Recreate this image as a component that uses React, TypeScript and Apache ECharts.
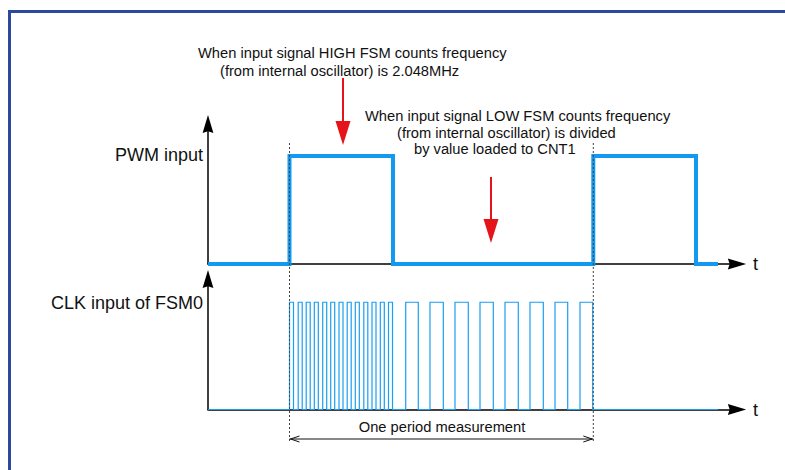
import React, { useEffect, useRef } from "react";
import * as echarts from "echarts";

// Time values (arbitrary units along the t axis)
const timeMax = 529;
const pwmEdgeTimes = [0, 81.5, 185, 385.3, 488, 510];
const pwmLevels = [0, 1, 0, 1, 0, 0];
const clkRiseTimes = [
  81.5, 90.2, 98.2, 106.3, 114.7, 122.7, 131, 139.2, 147.3, 155.8, 164, 172.3, 180.5,
  197.7, 222, 247, 272, 297, 322, 347, 372,
];
const clkFallTimes = [
  85.5, 94.2, 102.2, 110.3, 118.7, 126.7, 135, 143.2, 151.3, 159.8, 168, 176.3, 184.5,
  210.3, 235.3, 260.3, 285.3, 310.3, 335.3, 359.7, 384.7,
];
const clkEndTime = 510;
const periodStart = 81.5;
const periodEnd = 385.3;
const highArrowTime = 135;
const lowArrowTime = 283;

const signalLabels = ["PWM input", "CLK input of FSM0"];
const axisName = "t";
const highNote = ["When input signal HIGH FSM counts frequency", "(from internal oscillator) is 2.048MHz"];
const lowNote = [
  "When input signal LOW FSM counts frequency",
  "(from internal oscillator) is divided",
  "by value loaded to CNT1",
];
const measureLabel = "One period measurement";

const FONT = "'Liberation Sans', Arial, Helvetica, sans-serif";
const BLUE = "#1399f0";
const RED = "#e5141b";
const FRAME = "#2c4a9c";

export default function App() {
  const ref = useRef<HTMLDivElement>(null);

  useEffect(() => {
    const chart = echarts.init(ref.current as HTMLDivElement, null, { renderer: "svg" });

    const pwmData: number[][] = [[pwmEdgeTimes[0], pwmLevels[0]]];
    for (let i = 1; i < pwmEdgeTimes.length; i++) {
      pwmData.push([pwmEdgeTimes[i], pwmLevels[i - 1]]);
      pwmData.push([pwmEdgeTimes[i], pwmLevels[i]]);
    }
    const clkData: number[][] = [[0, 0]];
    clkRiseTimes.forEach((r, i) => {
      const f = clkFallTimes[i];
      clkData.push([r, 0], [r, 1], [f, 1], [f, 0]);
    });
    clkData.push([clkEndTime, 0]);

    const arrowPath = "path://M6,0L12,20L6,18L0,20Z";
    const axisLine = (size: number[]) => ({
      show: true,
      onZero: false,
      symbol: ["none", arrowPath],
      symbolSize: size,
      lineStyle: { color: "#000", width: 1.5 },
    });

    const xBase = (gridIndex: number, named: boolean) => ({
      type: "value",
      gridIndex,
      min: 0,
      max: timeMax,
      axisLine: named ? axisLine([11, 20]) : { show: false },
      axisTick: { show: false },
      axisLabel: { show: false },
      splitLine: { show: false },
      name: named ? axisName : "",
      nameLocation: "end",
      nameGap: 16,
      nameTextStyle: { fontSize: 18, fontFamily: FONT, color: "#111", verticalAlign: "middle" },
    });

    const yBase = (gridIndex: number, max: number, show: boolean, inverse = false) => ({
      type: "value",
      gridIndex,
      min: 0,
      max,
      inverse,
      axisLine: show ? axisLine([11, 18]) : { show: false },
      axisTick: { show: false },
      axisLabel: { show: false },
      splitLine: { show: false },
    });

    const option: any = {
      animation: false,
      backgroundColor: "#ffffff",
      grid: [
        { left: 208, right: 48, top: 124, bottom: 206 },
        { left: 208, right: 48, top: 279, bottom: 60.5 },
        { left: 208, right: 48, top: 0, bottom: 0 },
      ],
      xAxis: [xBase(0, true), xBase(1, true), xBase(2, false)],
      yAxis: [yBase(0, 1.296, true), yBase(1, 1.217, true), yBase(2, 470, false, true)],
      series: [
        {
          name: signalLabels[0],
          type: "line",
          xAxisIndex: 0,
          yAxisIndex: 0,
          data: pwmData,
          showSymbol: false,
          symbol: "none",
          clip: false,
          z: 3,
          lineStyle: { color: BLUE, width: 4, join: "miter", cap: "butt" },
        },
        {
          name: signalLabels[1],
          type: "line",
          xAxisIndex: 1,
          yAxisIndex: 1,
          data: clkData,
          showSymbol: false,
          symbol: "none",
          clip: false,
          z: 3,
          lineStyle: { color: "#1a9ef2", width: 1.2, join: "miter" },
        },
        {
          type: "custom",
          xAxisIndex: 2,
          yAxisIndex: 2,
          z: 5,
          silent: true,
          data: [[periodStart, periodEnd]],
          renderItem: (params: any, api: any) => {
            const px = (t: number, y: number) => api.coord([t, y]);
            const [sx, top] = px(periodStart, 143);
            const [ex, bottom] = px(periodEnd, 441);
            const [, my] = px(periodStart, 439);
            const [hx, hy0] = px(highArrowTime, 78);
            const [, hy1] = px(highArrowTime, 121);
            const [, hy2] = px(highArrowTime, 145);
            const [lx, ly0] = px(lowArrowTime, 177);
            const [, ly1] = px(lowArrowTime, 219);
            const [, ly2] = px(lowArrowTime, 243);
            const dotted = { stroke: "#444", lineWidth: 1, lineDash: [2, 2] };
            const thin = { stroke: "#111", lineWidth: 1, fill: "none" };
            return {
              type: "group",
              children: [
                { type: "line", shape: { x1: sx, y1: top, x2: sx, y2: bottom }, style: dotted },
                { type: "line", shape: { x1: ex, y1: top, x2: ex, y2: bottom }, style: dotted },
                { type: "line", shape: { x1: sx, y1: my, x2: ex, y2: my }, style: thin },
                {
                  type: "polyline",
                  shape: { points: [[sx + 10, my - 3], [sx + 1, my], [sx + 10, my + 3]] },
                  style: thin,
                },
                {
                  type: "polyline",
                  shape: { points: [[ex - 10, my - 3], [ex - 1, my], [ex - 10, my + 3]] },
                  style: thin,
                },
                { type: "line", shape: { x1: hx, y1: hy0, x2: hx, y2: hy1 + 1 }, style: { stroke: RED, lineWidth: 2 } },
                {
                  type: "polygon",
                  shape: { points: [[hx - 7.5, hy1], [hx + 7.5, hy1], [hx, hy2]] },
                  style: { fill: RED },
                },
                { type: "line", shape: { x1: lx, y1: ly0, x2: lx, y2: ly1 + 1 }, style: { stroke: RED, lineWidth: 2 } },
                {
                  type: "polygon",
                  shape: { points: [[lx - 7.5, ly1], [lx + 7.5, ly1], [lx, ly2]] },
                  style: { fill: RED },
                },
              ],
            };
          },
        },
      ],
      graphic: [
        { type: "rect", shape: { x: 8, y: 10, width: 777, height: 3 }, style: { fill: FRAME }, silent: true },
        { type: "rect", shape: { x: 8, y: 10, width: 3, height: 460 }, style: { fill: FRAME }, silent: true },
        {
          type: "text",
          x: 203,
          y: 155,
          style: { text: signalLabels[0], fontSize: 18, fontFamily: FONT, fill: "#111", align: "right", verticalAlign: "middle" },
        },
        {
          type: "text",
          x: 203,
          y: 303,
          style: { text: signalLabels[1], fontSize: 18, fontFamily: FONT, fill: "#111", align: "right", verticalAlign: "middle" },
        },
        {
          type: "text",
          x: 198,
          y: 53,
          style: { text: highNote[0], fontSize: 14.7, fontFamily: FONT, fill: "#111", align: "left", verticalAlign: "middle" },
        },
        {
          type: "text",
          x: 220,
          y: 71,
          style: { text: highNote[1], fontSize: 14.7, fontFamily: FONT, fill: "#111", align: "left", verticalAlign: "middle" },
        },
        {
          type: "text",
          x: 365,
          y: 116,
          style: { text: lowNote[0], fontSize: 14.7, fontFamily: FONT, fill: "#111", align: "left", verticalAlign: "middle" },
        },
        {
          type: "text",
          x: 397,
          y: 132.5,
          style: { text: lowNote[1], fontSize: 14.7, fontFamily: FONT, fill: "#111", align: "left", verticalAlign: "middle" },
        },
        {
          type: "text",
          x: 414,
          y: 149,
          style: { text: lowNote[2], fontSize: 14.7, fontFamily: FONT, fill: "#111", align: "left", verticalAlign: "middle" },
        },
        {
          type: "text",
          x: 442,
          y: 427,
          style: { text: measureLabel, fontSize: 14.7, fontFamily: FONT, fill: "#111", align: "center", verticalAlign: "middle" },
        },
      ],
    };

    chart.setOption(option);
    return () => chart.dispose();
  }, []);

  return (
    <div
      ref={ref}
      style={{ position: "fixed", left: 0, top: 0, width: 785, height: 470, background: "#fff" }}
    />
  );
}
